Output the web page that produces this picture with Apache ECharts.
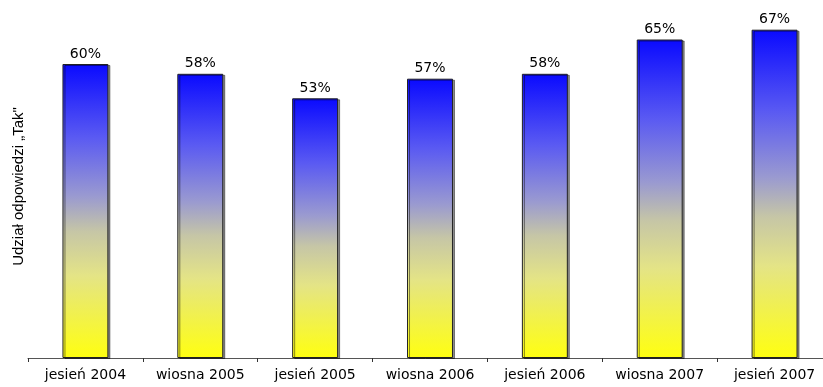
<!DOCTYPE html>
<html>
<head>
<meta charset="utf-8">
<script src="https://cdn.jsdelivr.net/npm/echarts@6/dist/echarts.min.js"></script>
<style>
  html, body { margin: 0; padding: 0; background: #fff; }
  #chart { width: 823px; height: 387px; }
</style>
</head>
<body>
<div id="chart"></div>
<script>
// dane
const categories = ['jesień 2004', 'wiosna 2005', 'jesień 2005', 'wiosna 2006', 'jesień 2006', 'wiosna 2007', 'jesień 2007'];
const values = [60, 58, 53, 57, 58, 65, 67];
const yAxisName = 'Udział odpowiedzi \u201eTak"';

const chart = echarts.init(document.getElementById('chart'));
const option = {
  animation: false,
  grid: {
    top: 15,
    left: 28,
    right: -9,
    bottom: 29,
    outerBoundsMode: 'none',
    containLabel: false
  },
  xAxis: {
    type: 'category',
    data: categories,
    axisLine: { lineStyle: { color: '#555', width: 1 } },
    axisTick: { show: true, length: 4, lineStyle: { color: '#333' } },
    axisLabel: {
      interval: 0,
      hideOverlap: false,
      color: '#000',
      fontFamily: 'DejaVu Sans',
      fontSize: 14,
      margin: 10
    }
  },
  yAxis: {
    type: 'value',
    min: 0,
    max: 70,
    name: yAxisName,
    nameLocation: 'middle',
    nameGap: 2,
    nameTextStyle: { color: '#000', fontFamily: 'Liberation Sans', fontSize: 15 },
    axisLine: { show: false },
    axisTick: { show: false },
    axisLabel: { show: false },
    splitLine: { show: false }
  },
  series: [
    {
      type: 'bar',
      data: values,
      barWidth: '40%',
      itemStyle: {
        // niebieski -> jasny fiolet -> żółty
        color: new echarts.graphic.LinearGradient(0, 0, 0, 1, [
          { offset: 0, color: '#0a0aff' },
          { offset: 0.25, color: '#5a5af2' },
          { offset: 0.45, color: '#9a9ad0' },
          { offset: 0.57, color: '#c6c6a6' },
          { offset: 0.72, color: '#e4e486' },
          { offset: 1, color: '#ffff10' }
        ]),
        borderColor: '#222',
        borderWidth: 1,
        shadowColor: 'rgba(0,0,0,0.45)',
        shadowOffsetX: 2,
        shadowOffsetY: 1,
        shadowBlur: 0
      },
      label: {
        show: true,
        position: 'top',
        distance: 3,
        formatter: '{c}%',
        color: '#000',
        fontFamily: 'DejaVu Sans',
        fontSize: 14
      }
    }
  ]
};
chart.setOption(option);
</script>
</body>
</html>
